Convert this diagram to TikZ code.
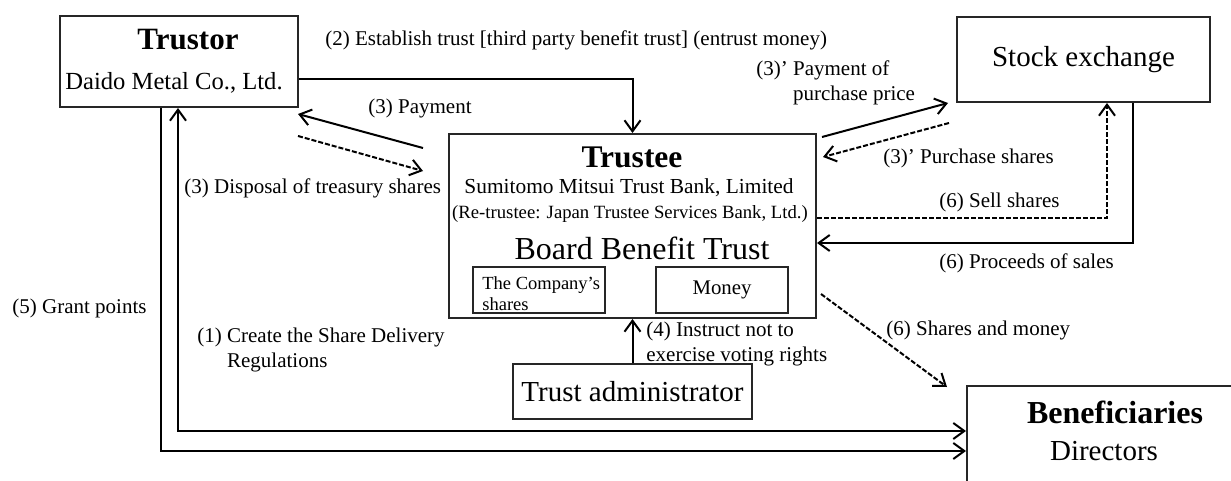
\documentclass[tikz,border=0pt]{standalone}
\usepackage{fontspec}
\setmainfont{Liberation Serif}
\usetikzlibrary{arrows.meta}

\newcommand{\fs}[1]{\fontsize{#1}{#1}\selectfont}

\begin{document}
\begin{tikzpicture}[x=0.5pt,y=-0.5pt,
    box/.style={draw=black!85,line width=1pt,inner sep=0pt},
    lbl/.style={font=\fontsize{10.5}{12.5}\selectfont,inner sep=0pt,anchor=west,align=left},
    txt/.style={inner sep=0pt,anchor=base},
    >={Straight Barb[length=5.5pt,width=8pt]},
    arr/.style={line width=1pt,->},
    dasharr/.style={arr,dash pattern=on 2.5pt off 1pt}]
    \useasboundingbox (0,0) rectangle (1231,481);
    \clip (0,0) rectangle (1231,481);

    % boxes
    \node[box,minimum width=119pt,minimum height=45.5pt] (trustor) at (179,61.5) {};
    \node[txt,font=\fs{15.5}\bfseries] (trustorT) at (188,50) {Trustor};
    \node[txt,font=\fs{12.3}] (trustorN) at (174,90) {Daido Metal Co., Ltd.};

    \node[box,minimum width=126.5pt,minimum height=42.5pt,font=\fs{14.5}] (stock) at (1083.5,59.5) {Stock exchange};

    \node[box,minimum width=183.5pt,minimum height=92pt] (trustee) at (632.5,226) {};
    \node[txt,font=\fs{15.75}\bfseries] (trusteeT) at (632,168) {Trustee};
    \node[txt,font=\fs{10.7}] (trusteeN) at (629,193) {Sumitomo Mitsui Trust Bank, Limited};
    \node[txt,font=\fs{9.35}] (retrustee) at (630,218) {(Re-trustee: Japan Trustee Services Bank, Ltd.)};
    \node[txt,font=\fs{16}] (bbt) at (642,259) {Board Benefit Trust};
    \node[box,minimum width=66pt,minimum height=23pt] (shares) at (539,290) {};
    \node[lbl,font=\fontsize{9.25}{10.5}\selectfont] (sharesT) at (482,294) {The Company's\\shares};
    \node[box,minimum width=66pt,minimum height=23pt,font=\fs{10.4}] (money) at (722,290) {Money};

    \node[box,minimum width=119.5pt,minimum height=27.5pt,font=\fs{14.5}] (admin) at (632.5,391.5) {Trust administrator};

    \node[box,minimum width=180pt,minimum height=70pt] (benef) at (1147,456) {};
    \node[txt,font=\fs{16}\bfseries] (benefT) at (1115,423) {Beneficiaries};
    \node[txt,font=\fs{14.5}] (benefN) at (1104,460) {Directors};

    % free ends
    \coordinate (payA) at (423,148);
    \coordinate (payB) at (298,114);
    \coordinate (dispA) at (298,136);
    \coordinate (dispB) at (423,171);
    \coordinate (ppA) at (822,137);
    \coordinate (ppB) at (948,103);
    \coordinate (psA) at (949,123);
    \coordinate (psB) at (823,157);
    \coordinate (smA) at (821,294);
    \coordinate (smB) at (947,387);

    % connectors
    \draw[arr] (trustor.east |- 0,79) -| (trustee.north);
    \draw[arr] (payA) -- (payB);
    \draw[dasharr] (dispA) -- (dispB);
    \draw[arr] (ppA) -- (ppB);
    \draw[dasharr] (psA) -- (psB);
    \draw[dasharr] (trustee.east |- 0,218) -| (stock.south -| 1107,0);
    \draw[arr] (stock.south -| 1133,0) |- (trustee.east |- 0,243);
    \draw[dasharr] (smA) -- (smB);
    \draw[arr] (admin.north) -- (trustee.south);
    \draw[arr] (trustor.south -| 161,0) |- (benef.west |- 0,451);
    \draw[arr,<->] (trustor.south -| 178,0) |- (benef.west |- 0,431);

    % labels
    \node[lbl] (l2) at (325,40) {(2) Establish trust [third party benefit trust] (entrust money)};
    \node[lbl] (l3p) at (368,108) {(3) Payment};
    \node[lbl] (l3d) at (184,188) {(3) Disposal of treasury shares};
    \node[lbl] (l3pp) at (756,83) {(3)' Payment of\\\phantom{(3)' }purchase price};
    \node[lbl] (l3ps) at (883,158) {(3)' Purchase shares};
    \node[lbl] (l6s) at (939,202) {(6) Sell shares};
    \node[lbl] (l6p) at (939,263) {(6) Proceeds of sales};
    \node[lbl] (l6m) at (886,330) {(6) Shares and money};
    \node[lbl] (l4) at (646,344) {(4) Instruct not to\\exercise voting rights};
    \node[lbl] (l1) at (197,350) {(1) Create the Share Delivery\\\phantom{(1) }Regulations};
    \node[lbl] (l5) at (12,308) {(5) Grant points};
\end{tikzpicture}
\end{document}
